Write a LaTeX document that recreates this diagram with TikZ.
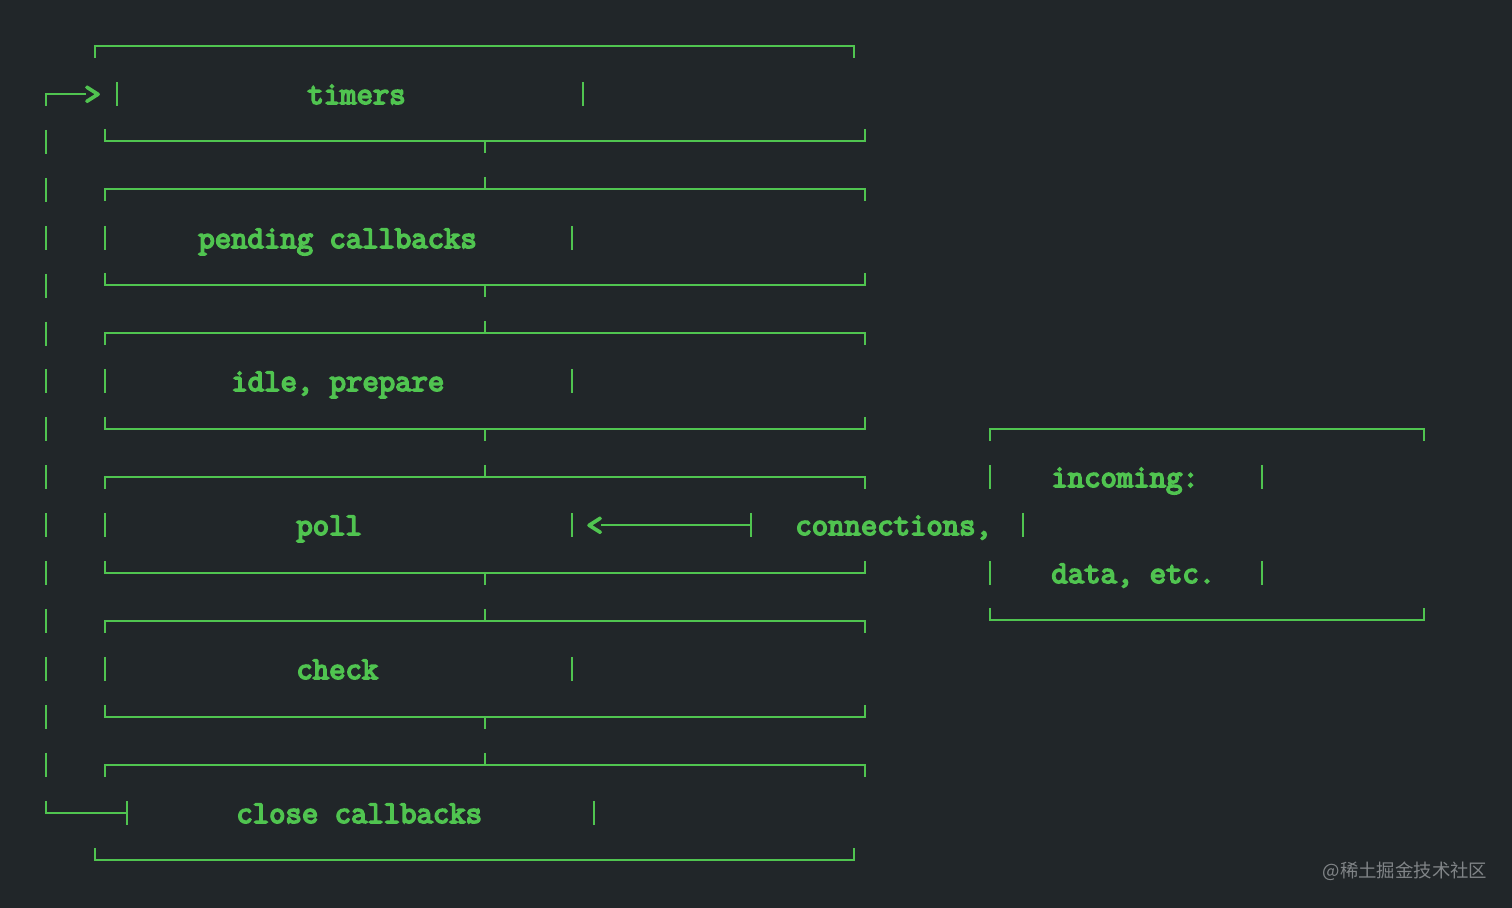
\documentclass[tikz,border=0pt]{standalone}
\usepackage{fontspec}
\newfontfamily\cjkfont{Noto Sans CJK SC}
\newfontfamily\boxfont[FakeBold=5]{Latin Modern Mono}
\definecolor{bgc}{RGB}{33,38,41}
\definecolor{grn}{RGB}{80,196,80}
\definecolor{wmc}{RGB}{128,132,135}
\begin{document}
\begin{tikzpicture}[x=0.5pt,y=-0.5pt,
  ln/.style={draw=grn,line width=1pt},
  lbl/.style={anchor=base west,inner sep=0pt,text=grn,font=\boxfont\fontsize{15.9}{18}\selectfont}]
\fill[bgc] (0,0) rectangle (1512,908);
\useasboundingbox (0,0) rectangle (1512,908);

% timers
\draw[ln] (95,58)--(95,46)--(854,46)--(854,58);
\draw[ln] (117,82)--(117,106) (583,82)--(583,106);
\draw[ln] (105,129)--(105,141)--(865,141)--(865,129) (485,141)--(485,153);
\node[lbl] (timers) at (307,104) {timers};
% loop arrow in
\draw[ln] (46,106)--(46,94)--(86,94);
\node[lbl] (gt) at (84,104) {>};

% pending
\draw[ln] (105,201)--(105,189)--(865,189)--(865,201) (485,177)--(485,189);
\draw[ln] (105,226)--(105,250) (572,226)--(572,250);
\draw[ln] (105,273)--(105,285)--(865,285)--(865,273) (485,285)--(485,297);
\node[lbl] (pending) at (198,248) {pending callbacks};

% idle
\draw[ln] (105,345)--(105,333)--(865,333)--(865,345) (485,321)--(485,333);
\draw[ln] (105,369)--(105,393) (572,369)--(572,393);
\draw[ln] (105,417)--(105,429)--(865,429)--(865,417) (485,429)--(485,441);
\node[lbl] (idle) at (231,391) {idle, prepare};

% poll
\draw[ln] (105,489)--(105,477)--(865,477)--(865,489) (485,465)--(485,477);
\draw[ln] (105,513)--(105,537) (572,513)--(572,537);
\draw[ln] (105,561)--(105,573)--(865,573)--(865,561) (485,573)--(485,585);
\node[lbl] (poll) at (296,535) {poll};
\node[lbl] (lt) at (586,535) {<};
\draw[ln] (601,525)--(751,525);
\draw[ln] (751,513)--(751,537);

% check
\draw[ln] (105,633)--(105,621)--(865,621)--(865,633) (485,609)--(485,621);
\draw[ln] (105,657)--(105,681) (572,657)--(572,681);
\draw[ln] (105,705)--(105,717)--(865,717)--(865,705) (485,717)--(485,729);
\node[lbl] (check) at (296,679) {check};

% close callbacks
\draw[ln] (105,777)--(105,765)--(865,765)--(865,777) (485,753)--(485,765);
\draw[ln] (127,801)--(127,825) (594,801)--(594,825);
\draw[ln] (95,848)--(95,860)--(854,860)--(854,848);
\node[lbl] (close) at (236,823) {close callbacks};
\draw[ln] (46,801)--(46,813)--(127,813);

% left return line
\draw[ln,dash pattern=on 12pt off 11.95pt] (46,130)--(46,777);

% incoming box
\draw[ln] (990,441)--(990,429)--(1424,429)--(1424,441);
\draw[ln] (990,465)--(990,489) (1262,465)--(1262,489);
\draw[ln] (1023,513)--(1023,537);
\draw[ln] (990,561)--(990,585) (1262,561)--(1262,585);
\draw[ln] (990,608)--(990,620)--(1424,620)--(1424,608);
\node[lbl] (incoming) at (1051,487) {incoming:};
\node[lbl] (conn) at (795,535) {connections,};
\node[lbl] (data) at (1051,583) {data, etc.};

% watermark
\node[anchor=center,inner sep=0pt,text=wmc,font=\cjkfont\fontsize{9.2}{11}\selectfont] (wm) at (1405,871) {@稀土掘金技术社区};
\end{tikzpicture}
\end{document}
